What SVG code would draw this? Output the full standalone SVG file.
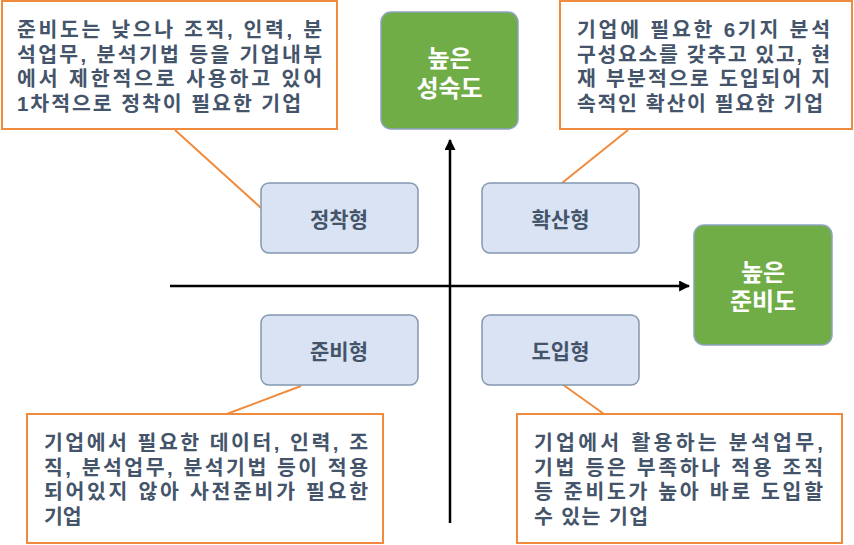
<svg xmlns="http://www.w3.org/2000/svg" width="854" height="545" viewBox="0 0 854 545">
<style>
.call{fill:#fff;stroke:#F08A3C;stroke-width:2}
.ptr{stroke:#F08A3C;stroke-width:2;fill:none}
.ct{font-family:"Liberation Sans","Noto Sans CJK KR",sans-serif;font-weight:bold;font-size:20.5px;fill:#44546A}
.nb{fill:#DAE3F3;stroke:#8497B0;stroke-width:1.5}
.nt{font-family:"Liberation Sans","Noto Sans CJK KR",sans-serif;font-weight:bold;font-size:21px;fill:#44546A;text-anchor:middle}
.gb{fill:#70AD47;stroke:#8EA3BF;stroke-width:1.5}
.gt{font-family:"Liberation Sans","Noto Sans CJK KR",sans-serif;font-weight:bold;font-size:24px;fill:#fff;text-anchor:middle}
.ax{stroke:#000;stroke-width:2.5;fill:none}
</style>
<defs>
<marker id="ah" viewBox="0 0 10 10" refX="9" refY="5" markerWidth="4.4" markerHeight="4.4" orient="auto" markerUnits="strokeWidth">
<path d="M0,0 L10,5 L0,10 z" fill="#000"/>
</marker>
</defs>
<g id="connectors">
<line class="ax" x1="170" y1="286" x2="689" y2="286" marker-end="url(#ah)"/>
<line class="ax" x1="450" y1="523" x2="450" y2="140" marker-end="url(#ah)"/>
<line class="ptr" x1="175" y1="130" x2="261" y2="208"/>
<line class="ptr" x1="628" y1="130" x2="562" y2="183"/>
<line class="ptr" x1="301" y1="386" x2="224" y2="415"/>
<line class="ptr" x1="562" y1="384" x2="604" y2="414"/>
</g>
<g id="callout-tl">
<rect class="call" x="2" y="1" width="335" height="128"/>
<text class="ct"><tspan x="17" y="37" textLength="305" lengthAdjust="spacing">준비도는 낮으나 조직, 인력, 분</tspan><tspan x="17" y="61.5" textLength="305" lengthAdjust="spacing">석업무, 분석기법 등을 기업내부</tspan><tspan x="17" y="86" textLength="305" lengthAdjust="spacing">에서 제한적으로 사용하고 있어</tspan><tspan x="17" y="110.5" textLength="284" lengthAdjust="spacing">1차적으로 정착이 필요한 기업</tspan></text>
</g>
<g id="callout-tr">
<rect class="call" x="560" y="1" width="292" height="128"/>
<text class="ct"><tspan x="577" y="37" textLength="253" lengthAdjust="spacing">기업에 필요한 6기지 분석</tspan><tspan x="577" y="61.5" textLength="253" lengthAdjust="spacing">구성요소를 갖추고 있고, 현</tspan><tspan x="577" y="86" textLength="253" lengthAdjust="spacing">재 부분적으로 도입되어 지</tspan><tspan x="577" y="110.5" textLength="246" lengthAdjust="spacing">속적인 확산이 필요한 기업</tspan></text>
</g>
<g id="callout-bl">
<rect class="call" x="27" y="414" width="356" height="129"/>
<text class="ct"><tspan x="44" y="450" textLength="324" lengthAdjust="spacing">기업에서 필요한 데이터, 인력, 조</tspan><tspan x="44" y="474.5" textLength="324" lengthAdjust="spacing">직, 분석업무, 분석기법 등이 적용</tspan><tspan x="44" y="499" textLength="324" lengthAdjust="spacing">되어있지 않아 사전준비가 필요한</tspan><tspan x="44" y="523.5">기업</tspan></text>
</g>
<g id="callout-br">
<rect class="call" x="517" y="414" width="325" height="129"/>
<text class="ct"><tspan x="534" y="450" textLength="289" lengthAdjust="spacing">기업에서 활용하는 분석업무,</tspan><tspan x="534" y="474.5" textLength="289" lengthAdjust="spacing">기법 등은 부족하나 적용 조직</tspan><tspan x="534" y="499" textLength="289" lengthAdjust="spacing">등 준비도가 높아 바로 도입할</tspan><tspan x="534" y="523.5" textLength="114" lengthAdjust="spacing">수 있는 기업</tspan></text>
</g>
<g id="node-maturity">
<rect class="gb" x="381" y="12" width="137" height="117" rx="10"/>
<text class="gt"><tspan x="449.5" y="67">높은</tspan><tspan x="449.5" y="97">성숙도</tspan></text>
</g>
<g id="node-readiness">
<rect class="gb" x="694" y="225" width="138" height="120" rx="10"/>
<text class="gt"><tspan x="763" y="281">높은</tspan><tspan x="763" y="310">준비도</tspan></text>
</g>
<g id="node-settle">
<rect class="nb" x="261" y="183" width="157" height="70" rx="8"/>
<text class="nt" x="339" y="227">정착형</text>
</g>
<g id="node-spread">
<rect class="nb" x="482" y="183" width="157" height="70" rx="8"/>
<text class="nt" x="560.5" y="227">확산형</text>
</g>
<g id="node-prepare">
<rect class="nb" x="261" y="315" width="157" height="70" rx="8"/>
<text class="nt" x="339" y="359">준비형</text>
</g>
<g id="node-adopt">
<rect class="nb" x="482" y="315" width="157" height="70" rx="8"/>
<text class="nt" x="560.5" y="359">도입형</text>
</g>
</svg>
